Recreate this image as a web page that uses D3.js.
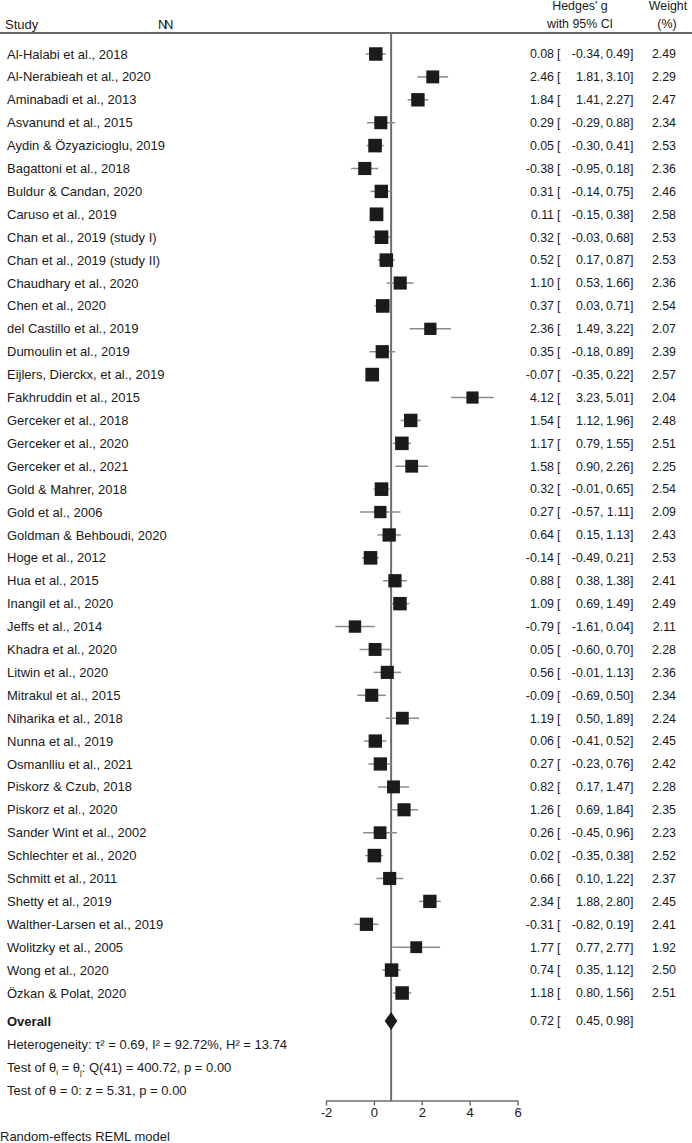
<!DOCTYPE html>
<html>
<head>
<meta charset="utf-8">
<script src="https://cdn.jsdelivr.net/npm/d3@7"></script>
<style>
  body { margin: 0; background: #fff; }
  svg text { font-family: "Liberation Sans", Arial, Helvetica, sans-serif; font-size: 13px; fill: #1a1a1a; }
  svg text.num { font-size: 12.4px; }
</style>
</head>
<body>
<svg id="chart" width="692" height="1143"></svg>
<script>
var w = 692;
var h = 1143;

// study data
var studies = ["Al-Halabi et al., 2018", "Al-Nerabieah et al., 2020", "Aminabadi et al., 2013", "Asvanund et al., 2015",
  "Aydin & Özyazicioglu, 2019", "Bagattoni et al., 2018", "Buldur & Candan, 2020", "Caruso et al., 2019",
  "Chan et al., 2019 (study I)", "Chan et al., 2019 (study II)", "Chaudhary et al., 2020", "Chen et al., 2020",
  "del Castillo et al., 2019", "Dumoulin et al., 2019", "Eijlers, Dierckx, et al., 2019", "Fakhruddin et al., 2015",
  "Gerceker et al., 2018", "Gerceker et al., 2020", "Gerceker et al., 2021", "Gold & Mahrer, 2018",
  "Gold et al., 2006", "Goldman & Behboudi, 2020", "Hoge et al., 2012", "Hua et al., 2015",
  "Inangil et al., 2020", "Jeffs et al., 2014", "Khadra et al., 2020", "Litwin et al., 2020",
  "Mitrakul et al., 2015", "Niharika et al., 2018", "Nunna et al., 2019", "Osmanlliu et al., 2021",
  "Piskorz & Czub, 2018", "Piskorz et al., 2020", "Sander Wint et al., 2002", "Schlechter et al., 2020",
  "Schmitt et al., 2011", "Shetty et al., 2019", "Walther-Larsen et al., 2019", "Wolitzky et al., 2005",
  "Wong et al., 2020", "Özkan & Polat, 2020"];
var est = [0.08, 2.46, 1.84, 0.29, 0.05, -0.38, 0.31, 0.11, 0.32, 0.52, 1.10, 0.37, 2.36, 0.35, -0.07, 4.12,
  1.54, 1.17, 1.58, 0.32, 0.27, 0.64, -0.14, 0.88, 1.09, -0.79, 0.05, 0.56, -0.09, 1.19, 0.06, 0.27,
  0.82, 1.26, 0.26, 0.02, 0.66, 2.34, -0.31, 1.77, 0.74, 1.18];
var lo = [-0.34, 1.81, 1.41, -0.29, -0.30, -0.95, -0.14, -0.15, -0.03, 0.17, 0.53, 0.03, 1.49, -0.18, -0.35, 3.23,
  1.12, 0.79, 0.90, -0.01, -0.57, 0.15, -0.49, 0.38, 0.69, -1.61, -0.60, -0.01, -0.69, 0.50, -0.41, -0.23,
  0.17, 0.69, -0.45, -0.35, 0.10, 1.88, -0.82, 0.77, 0.35, 0.80];
var hi = [0.49, 3.10, 2.27, 0.88, 0.41, 0.18, 0.75, 0.38, 0.68, 0.87, 1.66, 0.71, 3.22, 0.89, 0.22, 5.01,
  1.96, 1.55, 2.26, 0.65, 1.11, 1.13, 0.21, 1.38, 1.49, 0.04, 0.70, 1.13, 0.50, 1.89, 0.52, 0.76,
  1.47, 1.84, 0.96, 0.38, 1.22, 2.80, 0.19, 2.77, 1.12, 1.56];
var weight = [2.49, 2.29, 2.47, 2.34, 2.53, 2.36, 2.46, 2.58, 2.53, 2.53, 2.36, 2.54, 2.07, 2.39, 2.57, 2.04,
  2.48, 2.51, 2.25, 2.54, 2.09, 2.43, 2.53, 2.41, 2.49, 2.11, 2.28, 2.36, 2.34, 2.24, 2.45, 2.42,
  2.28, 2.35, 2.23, 2.52, 2.37, 2.45, 2.41, 1.92, 2.50, 2.51];

// overall (random-effects) estimate
var overall = { est: 0.72, lo: 0.45, hi: 0.98 };
var xTicks = [-2, 0, 2, 4, 6];

var svg = d3.select("#chart");

var x = d3.scaleLinear().domain([-2, 6]).range([326, 517.5]);
var y = d3.scaleLinear().domain([0, studies.length - 1]).range([54, 993]);
var side = d3.scaleSqrt().domain([0, 2.5]).range([0, 13.5]);

var rows = d3.range(studies.length);
var f2 = function(v) { return v.toFixed(2); };

// header
svg.append("text").attr("x", 5).attr("y", 24).attr("dy", "0.35em").text("Study");
svg.append("text").attr("x", 158).attr("y", 24).attr("dy", "0.35em")
   .attr("letter-spacing", "-3.5px").text("NN");
svg.append("text").attr("class", "num").attr("x", 580).attr("y", 6).attr("dy", "0.35em").attr("text-anchor", "middle").text("Hedges' g");
svg.append("text").attr("class", "num").attr("x", 580).attr("y", 24).attr("dy", "0.35em").attr("text-anchor", "middle").text("with 95% CI");
svg.append("text").attr("class", "num").attr("x", 668).attr("y", 6).attr("dy", "0.35em").attr("text-anchor", "middle").text("Weight");
svg.append("text").attr("class", "num").attr("x", 667).attr("y", 24).attr("dy", "0.35em").attr("text-anchor", "middle").text("(%)");

svg.append("line").attr("x1", 0).attr("x2", w).attr("y1", 33).attr("y2", 33)
   .attr("stroke", "#666").attr("stroke-width", 2);

// reference line at the overall estimate
svg.append("line").attr("x1", x(overall.est)).attr("x2", x(overall.est))
   .attr("y1", 33).attr("y2", 1101)
   .attr("stroke", "#6e6e6e").attr("stroke-width", 2);

var g = svg.append("g");

// study labels
g.selectAll(".lab").data(rows).enter().append("text")
  .attr("x", 7).attr("y", function(i) { return y(i); }).attr("dy", "0.35em")
  .text(function(i) { return studies[i]; });

// CI whiskers
g.selectAll(".ci").data(rows).enter().append("line")
  .attr("x1", function(i) { return x(lo[i]); })
  .attr("x2", function(i) { return x(hi[i]); })
  .attr("y1", function(i) { return y(i); })
  .attr("y2", function(i) { return y(i); })
  .attr("stroke", "#8c8c8c").attr("stroke-width", 1.5);

// weighted squares
g.selectAll(".sq").data(rows).enter().append("rect")
  .attr("x", function(i) { return x(est[i]) - side(weight[i]) / 2; })
  .attr("y", function(i) { return y(i) - side(weight[i]) / 2; })
  .attr("width", function(i) { return side(weight[i]); })
  .attr("height", function(i) { return side(weight[i]); })
  .attr("fill", "#1b1b1b");

// numbers: estimate [ lo, hi ]  weight
function put(sel, xx, yy, anchor, s) {
  sel.append("text").attr("class", "num").attr("x", xx).attr("y", yy).attr("dy", "0.35em")
     .attr("text-anchor", anchor).text(s);
}
function ciText(sel, e, l, u, yy) {
  put(sel, 554, yy, "end", f2(e));
  put(sel, 557, yy, "start", "[");
  put(sel, 600, yy, "end", f2(l));
  put(sel, 600, yy, "start", ",");
  put(sel, 630, yy, "end", f2(u));
  put(sel, 630, yy, "start", "]");
}
rows.forEach(function(i) {
  ciText(g, est[i], lo[i], hi[i], y(i));
  put(g, 676, y(i), "end", f2(weight[i]));
});

// overall row
var yo = 1021;
svg.append("text").attr("x", 7).attr("y", yo).attr("dy", "0.35em")
   .style("font-weight", "bold").text("Overall");
svg.append("path")
   .attr("d", "M" + x(overall.lo) + "," + yo + "L" + x(overall.est) + "," + (yo - 9) +
              "L" + x(overall.hi) + "," + yo + "L" + x(overall.est) + "," + (yo + 9) + "Z")
   .attr("fill", "#1b1b1b");
ciText(svg, overall.est, overall.lo, overall.hi, yo);

// heterogeneity stats
svg.append("text").attr("x", 7).attr("y", 1044).attr("dy", "0.35em")
   .text("Heterogeneity: τ² = 0.69, I² = 92.72%, H² = 13.74");
var t2 = svg.append("text").attr("x", 7).attr("y", 1067).attr("dy", "0.35em");
t2.append("tspan").text("Test of θ");
t2.append("tspan").attr("dy", "3").style("font-size", "8px").text("i");
t2.append("tspan").attr("dy", "-3").text(" = θ");
t2.append("tspan").attr("dy", "3").style("font-size", "8px").text("j");
t2.append("tspan").attr("dy", "-3").text(": Q(41) = 400.72, p = 0.00");
svg.append("text").attr("x", 7).attr("y", 1090).attr("dy", "0.35em")
   .text("Test of θ = 0: z = 5.31, p = 0.00");

// x axis
var axis = svg.append("g").attr("transform", "translate(0,1100.5)")
  .call(d3.axisBottom(x).tickValues(xTicks).tickSize(5).tickSizeOuter(0)
        .tickFormat(function(d) { return String(d); }));
axis.select(".domain").attr("stroke", "#6e6e6e").attr("stroke-width", 1.5);
axis.selectAll(".tick line").attr("stroke", "#6e6e6e").attr("stroke-width", 1.5);
axis.selectAll(".tick text").attr("y", 7).attr("fill", "#1a1a1a")
    .style("font-size", "13px").style("font-family", "'Liberation Sans', Arial, sans-serif");

svg.append("text").attr("x", 0).attr("y", 1136).attr("dy", "0.35em")
   .text("Random-effects REML model");
</script>
</body>
</html>
